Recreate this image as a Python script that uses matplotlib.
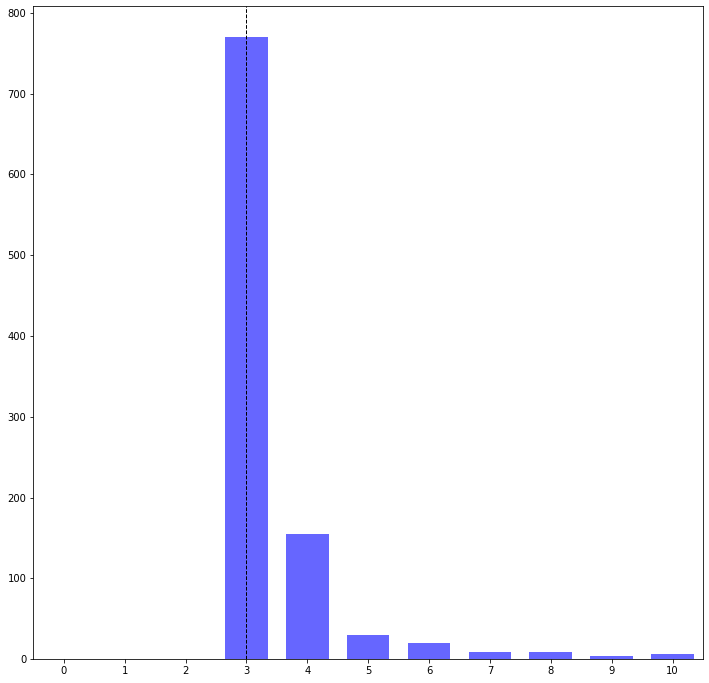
import matplotlib
matplotlib.use('Agg')
import matplotlib.pyplot as plt

# counts per category
categories = [0, 1, 2, 3, 4, 5, 6, 7, 8, 9, 10]
counts = [0, 0, 0, 770, 155, 30, 20, 9, 9, 4, 6]
marker_x = 3

fig = plt.figure(figsize=(709 / 72, 683 / 72), dpi=72)
ax = fig.add_axes([33.3 / 709, 23.7 / 683, 669.7 / 709, 653.3 / 683])

ax.bar(categories, counts, width=0.7, color='blue', alpha=0.6)
ax.axvline(marker_x, color='black', linestyle='--', linewidth=1)

ax.set_xticks(categories)
ax.set_xlim(-0.5, 10.5)
ax.tick_params(labelsize=10)

fig.savefig('out.png', dpi=72, facecolor='white')
